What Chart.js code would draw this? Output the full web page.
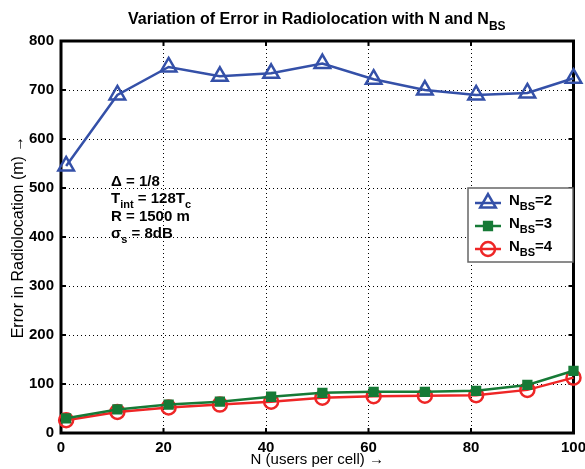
<!DOCTYPE html>
<html>
<head>
<meta charset="utf-8">
<script src="https://cdn.jsdelivr.net/npm/chart.js@4"></script>
<style>
  html, body { margin: 0; padding: 0; background: #fff; }
  #wrap { width: 585px; height: 469px; }
</style>
</head>
<body>
<div id="wrap"><canvas id="errChart" width="585" height="469"></canvas></div>
<script>
// Radiolocation error vs users per cell, for different numbers of base stations
const usersPerCell = [1, 11, 21, 31, 41, 51, 61, 71, 81, 91, 100];
const errBs2 = [545, 690, 747, 728, 734, 754, 722, 700, 690, 694, 724];
const errBs3 = [30, 48, 58, 64, 74, 82, 84, 84, 86, 98, 127];
const errBs4 = [26, 43, 52, 58, 64, 72, 75, 76, 77, 88, 113];
const xTicks = [0, 20, 40, 60, 80, 100];
const yTicks = [0, 100, 200, 300, 400, 500, 600, 700, 800];

const BLUE = '#3450a8';
const GREEN = '#167a36';
const RED = '#ee2626';
const FONT = '"Liberation Sans", Arial, sans-serif';

function toPoints(vals) {
    return vals.map((v, i) => ({ x: usersPerCell[i], y: v }));
}

// draws text made of normal and subscript parts, returns end x
function drawParts(ctx, parts, x, y, size, weight) {
    parts.forEach(p => {
        const s = p.sub ? Math.round(size * 0.75) : size;
        ctx.font = weight + ' ' + s + 'px ' + FONT;
        ctx.fillText(p.t, x, p.sub ? y + size * 0.35 : y);
        x += ctx.measureText(p.t).width;
    });
    return x;
}

const decorPlugin = {
    id: 'decor',
    beforeDatasetsDraw(chart) {
        const ctx = chart.ctx;
        const a = chart.chartArea;
        const xs = chart.scales.x, ys = chart.scales.y;
        ctx.save();
        // inward tick marks on all four sides
        ctx.strokeStyle = '#000';
        ctx.lineWidth = 2;
        ctx.beginPath();
        xTicks.forEach(t => {
            const px = xs.getPixelForValue(t);
            ctx.moveTo(px, a.top); ctx.lineTo(px, a.top + 5);
            ctx.moveTo(px, a.bottom); ctx.lineTo(px, a.bottom - 5);
        });
        yTicks.forEach(t => {
            const py = ys.getPixelForValue(t);
            ctx.moveTo(a.left, py); ctx.lineTo(a.left + 5, py);
            ctx.moveTo(a.right, py); ctx.lineTo(a.right - 5, py);
        });
        ctx.stroke();
        // axes box
        ctx.lineWidth = 3;
        ctx.strokeRect(a.left, a.top, a.right - a.left, a.bottom - a.top);
        ctx.restore();
    },
    afterDraw(chart) {
        const ctx = chart.ctx;
        ctx.save();
        ctx.fillStyle = '#000';
        ctx.textBaseline = 'alphabetic';

        // title
        drawParts(ctx, [{ t: 'Variation of Error in Radiolocation with N and N' }, { t: 'BS', sub: true }],
            128, 24, 16, 'bold');

        // parameter annotation
        const ax = 111;
        drawParts(ctx, [{ t: '\u0394 = 1/8' }], ax, 186, 15, '600');
        drawParts(ctx, [{ t: 'T' }, { t: 'int', sub: true }, { t: ' = 128T' }, { t: 'c', sub: true }], ax, 203, 15, '600');
        drawParts(ctx, [{ t: 'R = 1500 m' }], ax, 221, 15, '600');
        drawParts(ctx, [{ t: '\u03c3' }, { t: 's', sub: true }, { t: ' = 8dB' }], ax, 238, 15, '600');

        // legend
        const lx = 468, ly = 188, lw = 105, lh = 74;
        ctx.fillStyle = '#fff';
        ctx.fillRect(lx, ly, lw, lh);
        ctx.strokeStyle = '#666';
        ctx.lineWidth = 1.5;
        ctx.strokeRect(lx, ly, lw, lh);
        const datasets = chart.data.datasets;
        ['2', '3', '4'].forEach((lab, i) => {
            const ds = datasets[i];
            const cy = ly + 15 + i * 23;
            ctx.strokeStyle = ds.borderColor;
            ctx.lineWidth = ds.borderWidth;
            ctx.beginPath();
            ctx.moveTo(lx + 7, cy);
            ctx.lineTo(lx + 33, cy);
            ctx.stroke();
            ctx.fillStyle = ds.pointBackgroundColor;
            Chart.helpers.drawPoint(ctx, {
                pointStyle: ds.pointStyle,
                radius: ds.pointRadius,
                rotation: 0,
                borderWidth: ds.pointBorderWidth
            }, lx + 20, cy);
            ctx.fillStyle = '#000';
            drawParts(ctx, [{ t: 'N' }, { t: 'BS', sub: true }, { t: '=' + lab }], lx + 41, cy + 2, 15, 'bold');
        });
        ctx.restore();
    }
};

function series(label, vals, color, style, radius, fill) {
    return {
        label: label,
        data: toPoints(vals),
        borderColor: color,
        backgroundColor: fill,
        borderWidth: 2.5,
        pointStyle: style,
        pointRadius: radius,
        pointHoverRadius: radius,
        pointBorderWidth: 2.5,
        pointBorderColor: color,
        pointBackgroundColor: fill,
        tension: 0,
        clip: false
    };
}

new Chart(document.getElementById('errChart'), {
    type: 'line',
    data: {
        datasets: [
            series('NBS=2', errBs2, BLUE, 'triangle', 9, 'rgba(0,0,0,0)'),
            series('NBS=3', errBs3, GREEN, 'rect', 5.5, GREEN),
            series('NBS=4', errBs4, RED, 'circle', 7, 'rgba(0,0,0,0)')
        ]
    },
    options: {
        responsive: false,
        animation: false,
        events: [],
        layout: { padding: { left: 0, top: 41, right: 10, bottom: 0 } },
        plugins: {
            legend: { display: false },
            title: { display: false },
            tooltip: { enabled: false }
        },
        scales: {
            x: {
                type: 'linear',
                min: 0,
                max: 100,
                afterFit: s => { s.height = 36; s.paddingLeft = 0; s.paddingRight = 0; },
                afterBuildTicks: s => { s.ticks = xTicks.map(v => ({ value: v })); },
                border: { display: false, dash: [1, 3] },
                grid: { color: '#000', lineWidth: 1, drawTicks: false },
                ticks: { color: '#000', padding: 6, maxRotation: 0, font: { family: FONT, size: 15, weight: 'bold' } },
                title: {
                    display: true,
                    text: 'N (users per cell) \u2192',
                    color: '#000',
                    padding: { top: 0, bottom: 0 },
                    font: { family: FONT, size: 15 }
                }
            },
            y: {
                min: 0,
                max: 800,
                afterFit: s => { s.width = 61; s.paddingTop = 0; s.paddingBottom = 0; },
                afterBuildTicks: s => { s.ticks = yTicks.map(v => ({ value: v })); },
                border: { display: false, dash: [1, 3] },
                grid: { color: '#000', lineWidth: 1, drawTicks: false },
                ticks: { color: '#000', padding: 7, font: { family: FONT, size: 15, weight: 'bold' } },
                title: {
                    display: true,
                    text: 'Error in Radiolocation (m) \u2192',
                    color: '#000',
                    padding: { top: 9, bottom: 0 },
                    font: { family: FONT, size: 16 }
                }
            }
        }
    },
    plugins: [decorPlugin]
});
</script>
</body>
</html>
